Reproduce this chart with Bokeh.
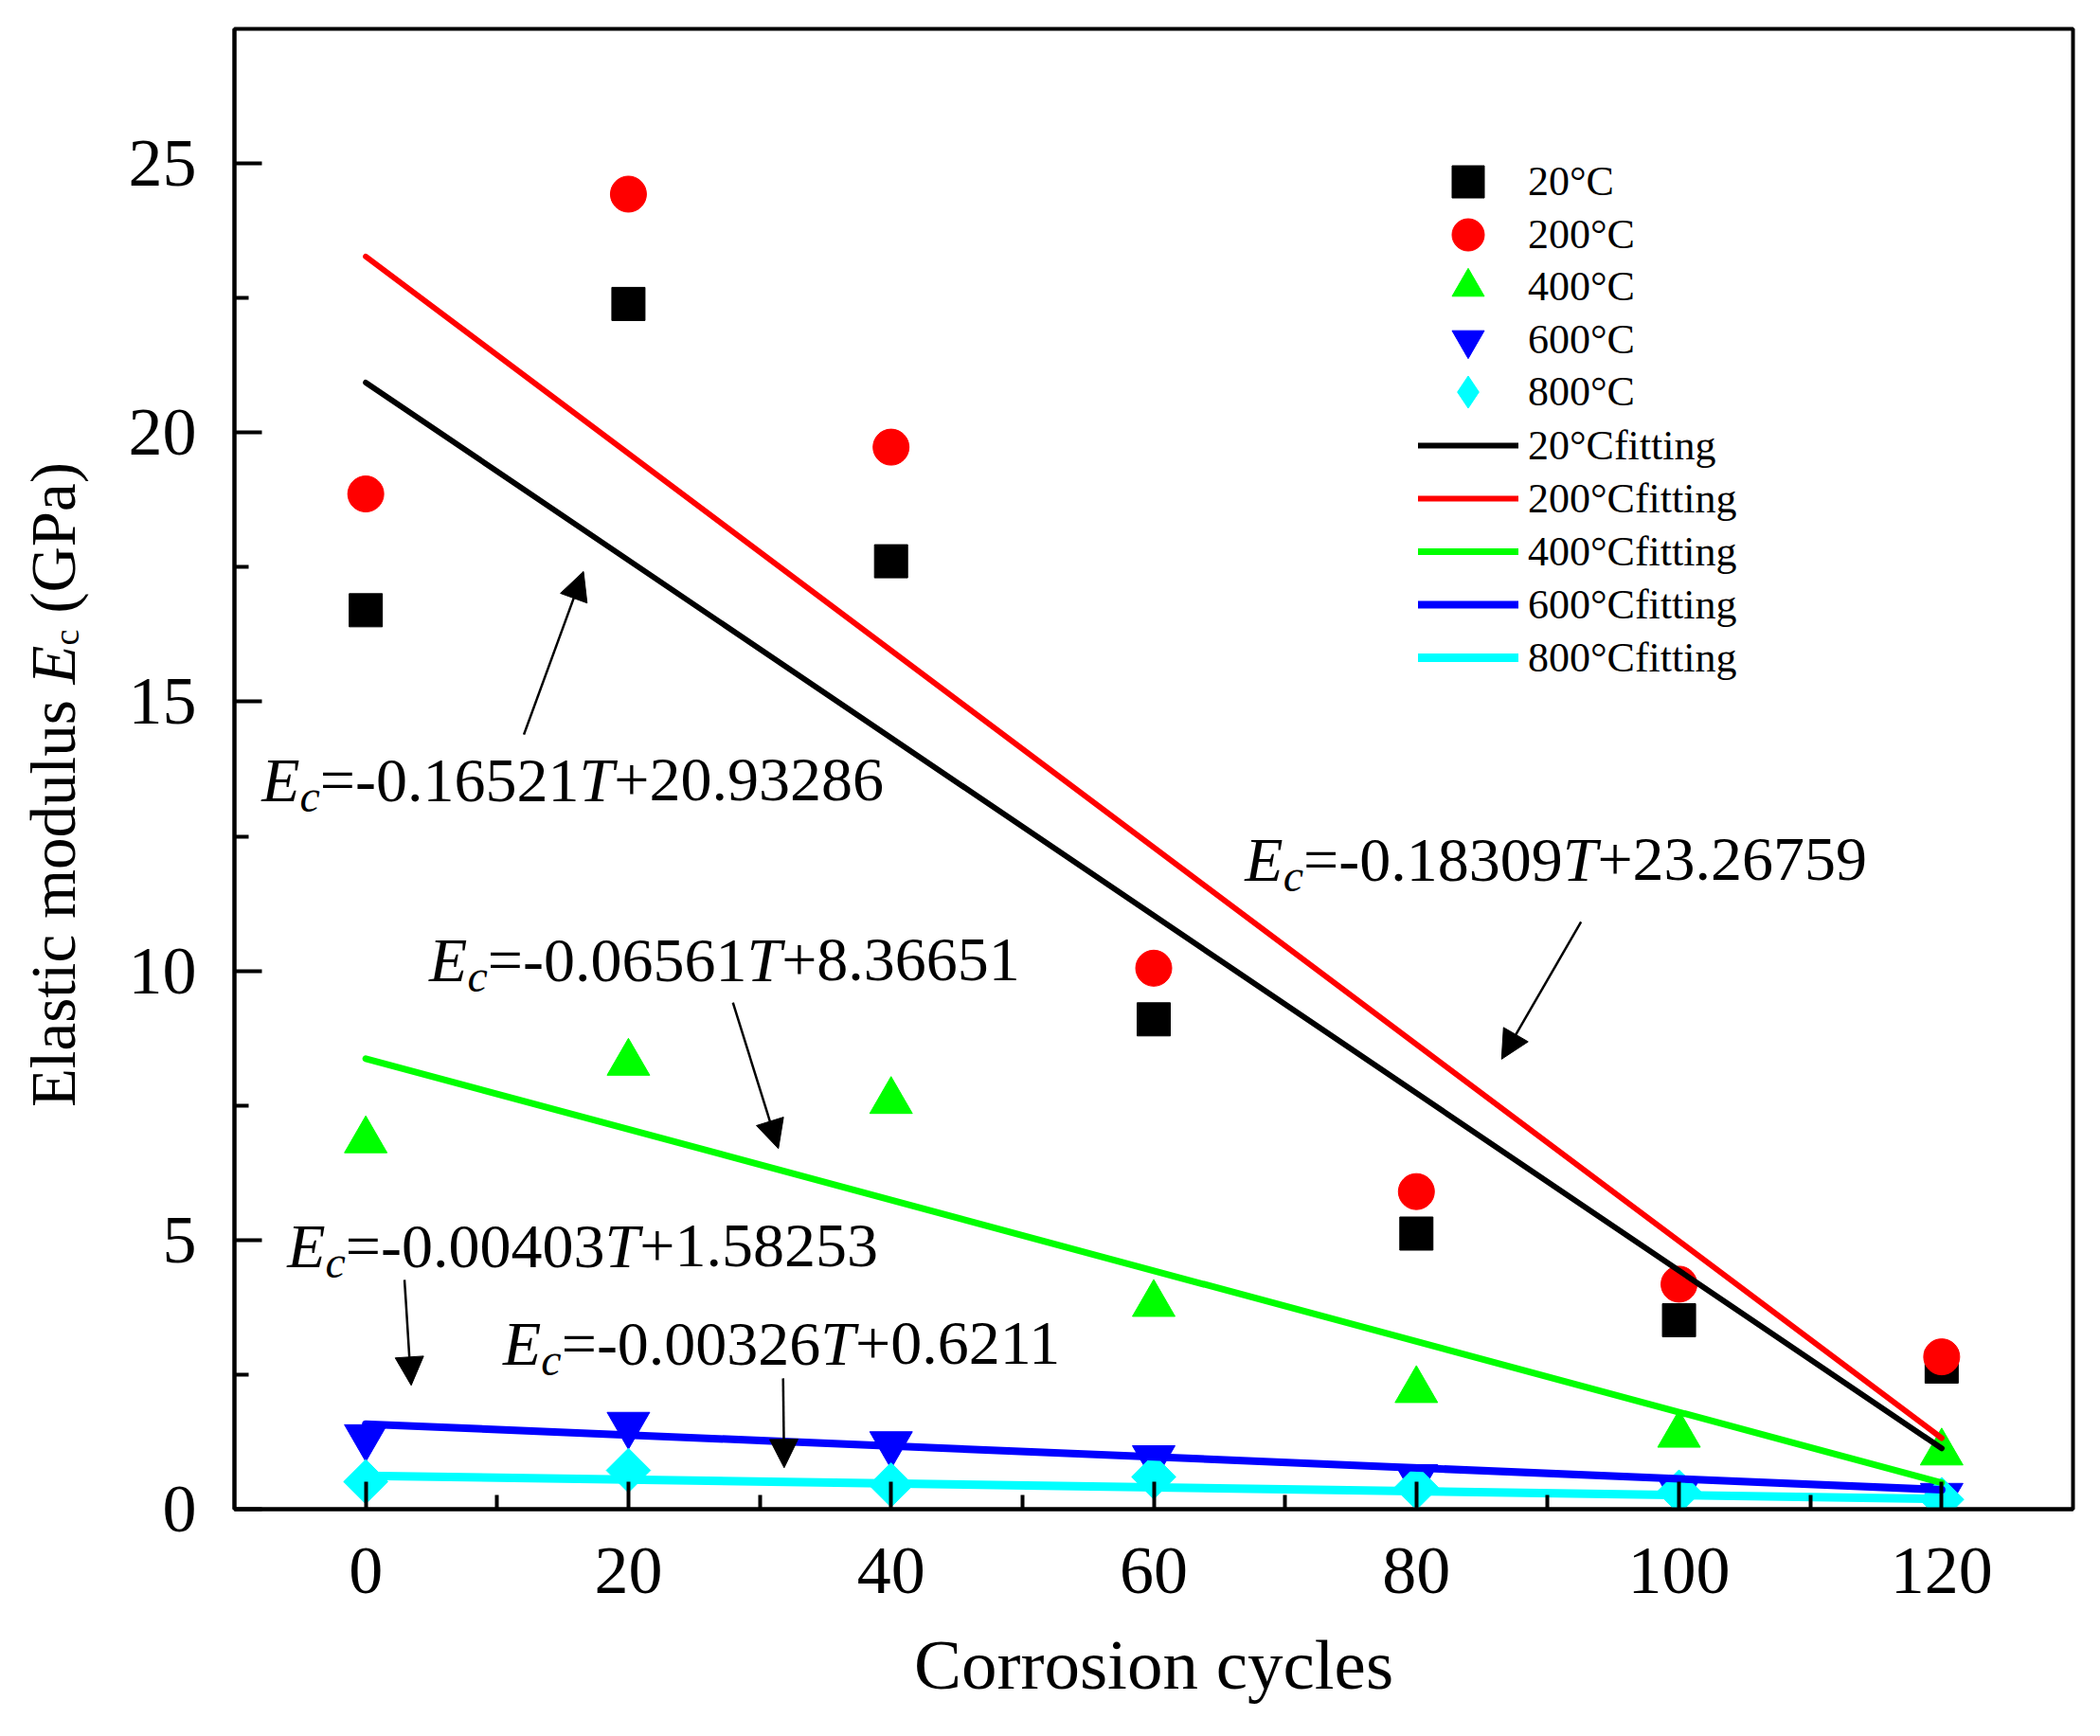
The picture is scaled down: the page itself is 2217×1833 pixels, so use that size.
from math import pi

from bokeh.plotting import figure
from bokeh.layouts import row
from bokeh.models import Range1d, FixedTicker, Label, Arrow, NormalHead, Legend, LegendItem
from bokeh.embed import file_html
from bokeh.resources import INLINE

# measured elastic modulus (GPa) per corrosion cycle
cycles = [0, 20, 40, 60, 80, 100, 120]
e_20 = [16.70, 22.39, 17.61, 9.10, 5.12, 3.51, 2.65]
e_200 = [18.86, 24.43, 19.73, 10.05, 5.90, 4.18, 2.83]
e_400 = [6.85, 8.29, 7.58, 3.81, 2.21, 1.38, 1.05]
e_600 = [1.34, 1.57, 1.21, 0.95, 0.60, 0.35, 0.25]
e_800 = [0.51, 0.72, 0.45, 0.60, 0.40, 0.32, 0.18]

# fitted lines, end points
fit_x = [0, 120]
fit_20 = [20.93, 1.13]
fit_200 = [23.27, 1.32]
fit_400 = [8.37, 0.49]
fit_600 = [1.58, 0.36]
fit_800 = [0.62, 0.19]

temps = ["20°C", "200°C", "400°C", "600°C", "800°C"]
x_ticks = [0, 20, 40, 60, 80, 100, 120]
y_ticks = [0, 5, 10, 15, 20, 25]

# equation texts and where they sit (data units, left / baseline)
equations = [
    ("=-0.16521", "+20.93286", -7.93, 13.11),
    ("=-0.18309", "+23.26759", 66.95, 11.63),
    ("=-0.06561", "+8.36651", 4.83, 9.76),
    ("=-0.00403", "+1.58253", -5.98, 4.45),
    ("=-0.00326", "+0.6211", 10.45, 2.64),
]
# arrows: x_start, y_start, x_end, y_end
arrows = [
    (12.04, 14.39, 16.58, 17.42),
    (92.54, 10.91, 86.49, 8.36),
    (27.96, 9.41, 31.42, 6.70),
    (2.95, 4.26, 3.46, 2.30),
    (31.78, 2.43, 31.86, 0.77),
]

FONT = "Liberation Serif"
BASE_SHIFT = 25  # lift alphabetic baseline to where the browser draws it

# Times / Liberation Serif advance widths (1/1000 em)
W_REG = {" ": 250, "(": 333, ")": 333, ".": 250, "-": 333, "+": 564, "=": 564,
         "E": 611, "G": 722, "P": 556, "T": 611, "a": 444, "c": 444, "d": 500,
         "e": 444, "i": 278, "l": 278, "m": 778, "o": 500, "s": 389, "t": 278, "u": 500}
W_ITA = {"E": 611, "T": 556, "c": 444}


def text_width(s, size, italic=False):
    table = W_ITA if italic else W_REG
    return sum(table.get(ch, 500) for ch in s) * size / 1000.0


FRAME_W, FRAME_H = 1941, 1563
LEFT_W = 130

p = figure(frame_width=FRAME_W, frame_height=FRAME_H,
           x_range=Range1d(-10, 130), y_range=Range1d(0, 27.5),
           output_backend="svg", toolbar_location=None, tools="",
           min_border_left=247 - LEFT_W, min_border_right=20, min_border_top=30, min_border_bottom=232)
p.outline_line_color = "black"
p.outline_line_width = 4
p.outline_line_alpha = 1
p.xgrid.visible = False
p.ygrid.visible = False

p.xaxis.ticker = FixedTicker(ticks=x_ticks,
                             minor_ticks=[(a + b) / 2 for a, b in zip(x_ticks, x_ticks[1:])])
p.yaxis.ticker = FixedTicker(ticks=y_ticks,
                             minor_ticks=[(a + b) / 2 for a, b in zip(y_ticks, y_ticks[1:])])

for ax in (p.xaxis[0], p.yaxis[0]):
    ax.axis_line_width = 4
    ax.axis_line_color = "black"
    ax.major_tick_line_width = 4
    ax.minor_tick_line_width = 4
    ax.major_tick_line_color = "black"
    ax.minor_tick_line_color = "black"
    ax.major_tick_in = 29
    ax.major_tick_out = 0
    ax.minor_tick_in = 15
    ax.minor_tick_out = 0
    ax.major_label_text_font = FONT
    ax.major_label_text_font_size = "72px"
    ax.major_label_text_color = "black"

p.xaxis.major_label_standoff = 41
p.yaxis.major_label_standoff = 40
p.xaxis.axis_label = "Corrosion cycles"
p.xaxis.axis_label_text_font = FONT
p.xaxis.axis_label_text_font_size = "75px"
p.xaxis.axis_label_text_font_style = "normal"
p.xaxis.axis_label_text_color = "black"
p.xaxis.axis_label_standoff = 31

# data points
r20 = p.scatter(cycles, e_20, marker="square", size=35, color="black")
r200 = p.scatter(cycles, e_200, marker="circle", size=38, color="#FF0000")
r400 = p.scatter(cycles, e_400, marker="triangle", size=45, color="#00FF00")
r600 = p.scatter(cycles, e_600, marker="inverted_triangle", size=45, color="#0000FF")
r800 = p.scatter(cycles, e_800, marker="square", angle=pi / 4, size=33, color="#00FFFF")
# hidden twin of the 800 °C points, only used for its diamond legend key
k800 = p.scatter(cycles, e_800, marker="diamond", size=33, color="#00FFFF", visible=False)

# fitted lines
f20 = p.line(fit_x, fit_20, line_width=6, color="black", line_cap="round")
f200 = p.line(fit_x, fit_200, line_width=6, color="#FF0000", line_cap="round")
f400 = p.line(fit_x, fit_400, line_width=7, color="#00FF00", line_cap="round")
f600 = p.line(fit_x, fit_600, line_width=8, color="#0000FF", line_cap="round")
f800 = p.line(fit_x, fit_800, line_width=9, color="#00FFFF", line_cap="round")

points = [r20, r200, r400, r600, k800]
fits = [f20, f200, f400, f600, f800]


def make_legend(items, loc, gw, gh, standoff):
    return Legend(items=items, location=loc, glyph_width=gw, glyph_height=gh,
                  label_height=40, spacing=0, label_standoff=standoff, padding=0, margin=0,
                  label_text_font=FONT, label_text_font_size="44px", label_text_color="black",
                  border_line_alpha=0, background_fill_alpha=0,
                  inactive_fill_alpha=0, click_policy="none")


# marker keys sit in two interleaved legends so they can be drawn larger
mark_items = [LegendItem(label=t, renderers=[r]) for t, r in zip(temps, points)]
p.add_layout(make_legend(mark_items[0::2], (1260, 1124), 85, 111, 21))
p.add_layout(make_legend(mark_items[1::2], (1260, 1179), 85, 111, 21))
fit_items = [LegendItem(label=t + "fitting", renderers=[r]) for t, r in zip(temps, fits)]
p.add_layout(make_legend(fit_items, (1250, 871), 106, 56, 10))

# equations: italic E, subscript c, italic T
EQ_SIZE = 66
SUB_SIZE = 48
for left, right, ex, ey in equations:
    pieces = [("E", True, EQ_SIZE, 0), ("c", True, SUB_SIZE, -17),
              (left, False, EQ_SIZE, 0), ("T", True, EQ_SIZE, 0), (right, False, EQ_SIZE, 0)]
    off = 0.0
    for txt, ita, size, dy in pieces:
        p.add_layout(Label(x=ex, y=ey, x_offset=off, y_offset=dy + BASE_SHIFT, text=txt,
                           text_font=FONT, text_font_size="%dpx" % size,
                           text_font_style="italic" if ita else "normal",
                           text_color="black", text_baseline="alphabetic", text_align="left"))
        off += text_width(txt, size, ita)

for xs, ys, xe, ye in arrows:
    p.add_layout(Arrow(x_start=xs, y_start=ys, x_end=xe, y_end=ye, line_width=2.5, line_color="black",
                       end=NormalHead(size=30, fill_color="black", line_color="black", line_width=1)))

# y axis title in its own narrow panel, built from pieces and rotated
yl = figure(frame_width=LEFT_W, frame_height=FRAME_H,
            x_range=Range1d(0, LEFT_W), y_range=Range1d(0, 27.5),
            output_backend="svg", toolbar_location=None, tools="",
            x_axis_location=None, y_axis_location=None,
            min_border_left=0, min_border_right=0, min_border_top=30, min_border_bottom=232)
yl.outline_line_alpha = 0
yl.xgrid.visible = False
yl.ygrid.visible = False

YL_SIZE = 67
YL_SUB = 38
# (text, italic, size, shift below baseline, gap before the piece)
ylab = [("Elastic modulus", False, YL_SIZE, 0, 0), ("E", True, YL_SIZE, 0, 250),
        ("c", False, YL_SUB, 14, 0), ("(GPa)", False, YL_SIZE, 0, 250)]
total = sum(text_width(t, s, i) + g * s / 1000.0 for t, i, s, _, g in ylab)
off = -total / 2
for txt, ita, size, dx, gap in ylab:
    off += gap * YL_SIZE / 1000.0
    yl.add_layout(Label(x=80 - BASE_SHIFT, y=13.46, x_offset=dx, y_offset=off, text=txt, angle=pi / 2,
                        text_font=FONT, text_font_size="%dpx" % size,
                        text_font_style="italic" if ita else "normal",
                        text_color="black", text_baseline="alphabetic", text_align="left"))
    off += text_width(txt, size, ita)

page = row(yl, p, spacing=0)
open("out.html", "w").write(file_html(page, INLINE))
